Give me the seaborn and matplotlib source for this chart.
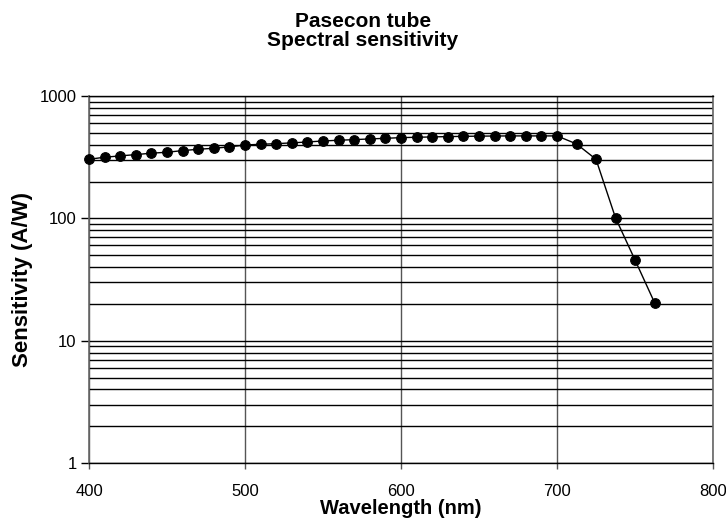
import numpy as np
import pandas as pd
import matplotlib
matplotlib.use("Agg")
import matplotlib.pyplot as plt
import seaborn as sns
from matplotlib.ticker import LogLocator, FixedLocator, NullFormatter

# data
wavelength = [400, 410, 420, 430, 440, 450, 460, 470, 480, 490,
              500, 510, 520, 530, 540, 550, 560, 570, 580, 590,
              600, 610, 620, 630, 640, 650, 660, 670, 680, 690,
              700, 712.5, 725, 737.5, 750, 762.5]
sensitivity = [304, 316, 324, 332, 341, 347, 358, 367, 374, 384,
               398, 403, 408, 414, 421, 429, 435, 440, 446, 451,
               457, 460, 463, 466, 468, 470, 471, 472, 472, 472,
               472, 406, 304, 101, 45.7, 20.5]
x_ticks = [400, 500, 600, 700, 800]
y_ticks = [1, 10, 100, 1000]

df = pd.DataFrame({'wl': wavelength, 'sens': sensitivity})

sns.set_style("white")
plt.rcParams['font.family'] = ['Liberation Sans', 'DejaVu Sans']
plt.rcParams['text.color'] = 'black'
plt.rcParams['axes.labelcolor'] = 'black'
plt.rcParams['xtick.labelcolor'] = 'black'
plt.rcParams['ytick.labelcolor'] = 'black'

fig = plt.figure(figsize=(7.26, 5.23), dpi=100)
ax = fig.add_axes([0.1226, 0.1147, 0.8595, 0.7017])

sns.lineplot(data=df, x='wl', y='sens', ax=ax, color='black', linewidth=1,
             marker='o', markersize=7, markeredgecolor='black',
             markerfacecolor='black', clip_on=False, zorder=5)

ax.set_yscale('log')
ax.set_xlim(400, 800)
ax.set_ylim(1, 1000)
ax.xaxis.set_major_locator(FixedLocator(x_ticks))
ax.yaxis.set_major_locator(FixedLocator(y_ticks))
ax.yaxis.set_minor_locator(LogLocator(base=10, subs=np.arange(2, 10)))
ax.yaxis.set_minor_formatter(NullFormatter())
ax.set_yticklabels([str(v) for v in y_ticks])
ax.set_xticklabels([str(v) for v in x_ticks])

ax.grid(True, which='major', axis='x', color='#555555', linewidth=1)
ax.grid(True, which='both', axis='y', color='black', linewidth=1)
ax.set_axisbelow(True)

for s in ['left', 'right']:
    ax.spines[s].set_color('#666666')
    ax.spines[s].set_linewidth(1.2)
for s in ['top', 'bottom']:
    ax.spines[s].set_color('black')
    ax.spines[s].set_linewidth(1)

ax.tick_params(axis='y', which='major', left=True, length=6, width=1,
               color='black', labelcolor='black', labelsize=12, pad=3)
ax.tick_params(axis='y', which='minor', left=False)
ax.tick_params(axis='x', which='major', bottom=True, length=4, width=1,
               color='#555555', labelcolor='black', labelsize=12, pad=11)

ax.set_xlabel('Wavelength (nm)', fontsize=14.5, fontweight='bold', labelpad=0)
ax.set_ylabel('Sensitivity (A/W)', fontsize=16, fontweight='bold', labelpad=5)
fig.suptitle('Pasecon tube\nSpectral sensitivity', fontsize=15,
             fontweight='bold', x=0.5, y=0.978, va='top', linespacing=1.0)

fig.savefig('out.png', dpi=100)
